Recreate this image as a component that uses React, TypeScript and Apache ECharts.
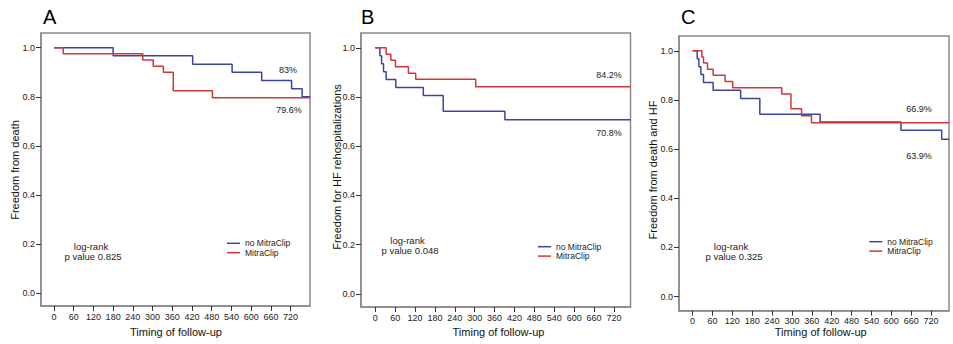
import React, { useEffect, useRef } from "react";
import * as echarts from "echarts";

// ---- data ----
const xTickValues = [0, 60, 120, 180, 240, 300, 360, 420, 480, 540, 600, 660, 720];
const yTickValues = [0, 0.2, 0.4, 0.6, 0.8, 1.0];
const groupNames = ["no MitraClip", "MitraClip"];
const panelLetters = ["A", "B", "C"];
const yTitles = ["Freedom from death", "Freedom for HF rehospitalizations", "Freedom from death and HF"];
const xTitle = "Timing of follow-up";
const logRankP = ["p value 0.825", "p value 0.048", "p value 0.325"];

// Panel A: freedom from death
const deathNoTime = [0, 180, 422, 542, 632, 723, 755, 779];
const deathNoSurv = [1, 0.967, 0.933, 0.9, 0.867, 0.833, 0.8, 0.8];
const deathMcTime = [0, 28, 270, 302, 333, 363, 482, 779];
const deathMcSurv = [1, 0.975, 0.95, 0.925, 0.9, 0.825, 0.796, 0.796];
const deathLabels = ["83%", "79.6%"];

// Panel B: freedom from HF rehospitalizations
const hfNoTime = [0, 14, 19, 25, 33, 62, 145, 205, 391, 770];
const hfNoSurv = [1, 0.968, 0.935, 0.903, 0.871, 0.839, 0.806, 0.742, 0.708, 0.708];
const hfMcTime = [0, 33, 47, 61, 100, 122, 303, 770];
const hfMcSurv = [1, 0.974, 0.949, 0.923, 0.897, 0.872, 0.842, 0.842];
const hfLabels = ["84.2%", "70.8%"];

// Panel C: freedom from death and HF
const combNoTime = [0, 14, 19, 25, 33, 62, 145, 203, 385, 629, 752, 774];
const combNoSurv = [1, 0.968, 0.935, 0.903, 0.871, 0.839, 0.806, 0.742, 0.71, 0.677, 0.64, 0.64];
const combMcTime = [0, 28, 33, 45, 62, 98, 121, 269, 297, 329, 359, 774];
const combMcSurv = [1, 0.975, 0.95, 0.925, 0.9, 0.875, 0.85, 0.824, 0.764, 0.736, 0.707, 0.707];
const combLabels = ["66.9%", "63.9%"];

const zip = (t: number[], s: number[]) => t.map((v, i) => [v, s[i]]);

const BLUE = "#3d44a0";
const RED = "#d2353a";
const BORDER = "#8a8a8a";
const TICK = "#333";
const FONT = "Liberation Sans, Arial, sans-serif";

// layout (pixels)
const grids = [
  { left: 41, top: 33, width: 269, height: 273, xMin: -39.5, xMax: 779, yMin: -0.052, yMax: 1.06 },
  { left: 361, top: 33, width: 269.5, height: 274, xMin: -43, xMax: 770, yMin: -0.053, yMax: 1.06 },
  { left: 679, top: 36, width: 270, height: 274.7, xMin: -41, xMax: 774, yMin: -0.057, yMax: 1.06 },
];
const titlePos = [[43, 16.5], [361, 16.5], [681, 16.5]];
const yTitlePos = [[15, 170], [337, 167], [653, 170]];
const xTitlePos = [[176, 331.5], [498.5, 331.5], [820.7, 331.5]];
const lrPos = [[91, 246.7, 93, 256.7], [407.5, 240, 410, 250], [731, 246, 734, 256]];
const pctPos = [[288, 70, 289, 110], [609, 75, 609, 133], [919, 109, 919, 156]];
const legendPos = [[227, 238.6], [538, 242], [869.3, 237]];

export default function App() {
  const ref = useRef<HTMLDivElement>(null);
  useEffect(() => {
    if (!ref.current) return;
    const chart = echarts.init(ref.current, null, { renderer: "svg" });
    const seriesData = [
      [zip(deathNoTime, deathNoSurv), zip(deathMcTime, deathMcSurv)],
      [zip(hfNoTime, hfNoSurv), zip(hfMcTime, hfMcSurv)],
      [zip(combNoTime, combNoSurv), zip(combMcTime, combMcSurv)],
    ];
    const pctLabels = [deathLabels, hfLabels, combLabels];

    const graphic: any[] = [];
    for (let i = 0; i < 3; i++) {
      graphic.push({
        type: "text", x: titlePos[i][0], y: titlePos[i][1],
        style: { text: panelLetters[i], font: `20px ${FONT}`, fill: "#000", textAlign: "left", textVerticalAlign: "middle" },
      });
      graphic.push({
        type: "text", x: yTitlePos[i][0], y: yTitlePos[i][1], rotation: Math.PI / 2,
        style: { text: yTitles[i], font: `11px ${FONT}`, fill: "#111", textAlign: "center", textVerticalAlign: "middle" },
      });
      graphic.push({
        type: "text", x: xTitlePos[i][0], y: xTitlePos[i][1],
        style: { text: xTitle, font: `11px ${FONT}`, fill: "#111", textAlign: "center", textVerticalAlign: "middle" },
      });
      graphic.push({
        type: "text", x: lrPos[i][0], y: lrPos[i][1],
        style: { text: "log-rank", font: `9.5px ${FONT}`, fill: "#222", textAlign: "center", textVerticalAlign: "middle" },
      });
      graphic.push({
        type: "text", x: lrPos[i][2], y: lrPos[i][3],
        style: { text: logRankP[i], font: `9.5px ${FONT}`, fill: "#222", textAlign: "center", textVerticalAlign: "middle" },
      });
      graphic.push({
        type: "text", x: pctPos[i][0], y: pctPos[i][1],
        style: { text: pctLabels[i][0], font: `9px ${FONT}`, fill: "#222", textAlign: "center", textVerticalAlign: "middle" },
      });
      graphic.push({
        type: "text", x: pctPos[i][2], y: pctPos[i][3],
        style: { text: pctLabels[i][1], font: `9px ${FONT}`, fill: "#222", textAlign: "center", textVerticalAlign: "middle" },
      });
    }

    const option: any = {
      animation: false,
      backgroundColor: "#fff",
      textStyle: { fontFamily: FONT },
      grid: grids.map((g) => ({
        left: g.left, top: g.top, width: g.width, height: g.height,
        show: true, borderColor: BORDER, borderWidth: 1.5,
      })),
      xAxis: grids.map((g, i) => ({
        type: "value", gridIndex: i, min: g.xMin, max: g.xMax,
        axisLine: { show: true, onZero: false, lineStyle: { color: BORDER, width: 1.5 } },
        splitLine: { show: false },
        axisTick: { show: true, length: 5, customValues: xTickValues, lineStyle: { color: TICK, width: 1 } },
        axisLabel: { show: true, customValues: xTickValues, margin: 6, fontSize: 9, color: "#222", fontFamily: FONT, hideOverlap: false },
      })),
      yAxis: grids.map((g, i) => ({
        type: "value", gridIndex: i, min: g.yMin, max: g.yMax,
        axisLine: { show: true, onZero: false, lineStyle: { color: BORDER, width: 1.5 } },
        splitLine: { show: false },
        axisTick: { show: true, length: 5, customValues: yTickValues, lineStyle: { color: TICK, width: 1 } },
        axisLabel: { show: true, customValues: yTickValues, margin: 6, fontSize: 9, color: "#222", fontFamily: FONT, formatter: (v: number) => v.toFixed(1) },
      })),
      legend: legendPos.map((p) => ({
        data: groupNames, left: p[0], top: p[1], orient: "vertical", padding: 0, itemGap: 0,
        itemWidth: 13, itemHeight: 1.5, icon: "rect", selectedMode: false,
        textStyle: { fontSize: 8.5, color: "#222", fontFamily: FONT, lineHeight: 9.4 },
      })),
      series: seriesData.flatMap((pair, i) => [
        {
          name: groupNames[0], type: "line", step: "end", xAxisIndex: i, yAxisIndex: i, data: pair[0],
          showSymbol: false, symbol: "none", color: BLUE, lineStyle: { color: BLUE, width: 1.5 }, z: 2,
        },
        {
          name: groupNames[1], type: "line", step: "end", xAxisIndex: i, yAxisIndex: i, data: pair[1],
          showSymbol: false, symbol: "none", color: RED, lineStyle: { color: RED, width: 1.5 }, z: 3,
        },
      ]),
      graphic,
    };
    chart.setOption(option);
    return () => chart.dispose();
  }, []);
  return <div ref={ref} style={{ position: "fixed", left: 0, top: 0, width: 953, height: 344 }} />;
}
